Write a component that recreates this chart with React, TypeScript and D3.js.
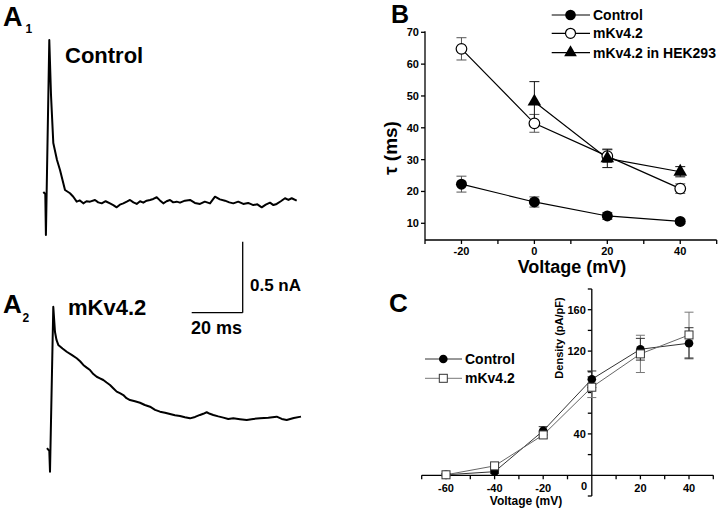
import React from 'react';
import * as d3 from 'd3';

const FONT = "'Liberation Sans', Arial, Helvetica, sans-serif";

// ---- Panel A: current traces (time in ms, current in nA relative to holding) ----
const A1_TIME = [-0.94, -0.16, 0.08, 1.41, 2.08, 2.98, 4.43, 5.61, 7.57, 9.53, 10.82, 12.16, 13.4, 14.75, 16.0, 17.37, 19.33, 20.6, 21.96, 23.5, 25.22, 26.5, 27.84, 29.1, 30.43, 31.8, 33.06, 34.4, 35.69, 37.0, 38.27, 39.6, 40.9, 42.2, 43.53, 44.8, 46.12, 47.4, 48.75, 50.0, 51.37, 52.67, 54.6, 56.59, 58.5, 60.51, 62.4, 64.43, 66.39, 68.3, 70.31, 72.0, 73.57, 75.5, 77.49, 79.4, 81.41, 83.0, 84.71, 86.3, 87.96, 89.3, 90.59, 92.2, 93.84, 95.2, 96.47, 98.43];
const A1_CURRENT = [0.007, -0.007, -0.296, 1.077, 0.69, 0.352, 0.232, 0.162, 0.021, -0.002, -0.026, -0.061, -0.052, -0.073, -0.058, -0.061, -0.049, -0.066, -0.073, -0.058, -0.073, -0.085, -0.101, -0.082, -0.073, -0.061, -0.049, -0.066, -0.077, -0.058, -0.068, -0.054, -0.049, -0.042, -0.03, -0.052, -0.073, -0.058, -0.049, -0.066, -0.061, -0.068, -0.054, -0.049, -0.07, -0.077, -0.061, -0.073, -0.026, -0.045, -0.054, -0.066, -0.073, -0.061, -0.077, -0.07, -0.085, -0.08, -0.101, -0.082, -0.068, -0.085, -0.077, -0.058, -0.037, -0.049, -0.037, -0.054];
const A2_TIME = [-1.18, -0.27, 0, 1.29, 1.96, 2.55, 3.25, 4.9, 6.55, 8.5, 10.47, 11.8, 13.06, 14.4, 15.69, 17.0, 18.31, 19.6, 20.9, 22.2, 23.53, 24.8, 26.16, 27.4, 28.75, 30.0, 31.37, 33.3, 35.29, 37.2, 39.22, 41.2, 43.14, 45.1, 47.06, 49.0, 50.98, 52.9, 54.9, 56.9, 58.82, 60.1, 61.45, 62.7, 64.04, 66.0, 67.96, 69.9, 71.88, 74.5, 77.14, 79.7, 82.35, 85.6, 88.9, 90.9, 92.82, 95.6, 98.43];
const A2_CURRENT = [0.009, -0.012, -0.158, 1.004, 0.826, 0.77, 0.735, 0.71, 0.687, 0.665, 0.641, 0.62, 0.594, 0.575, 0.558, 0.53, 0.511, 0.5, 0.488, 0.47, 0.453, 0.43, 0.406, 0.395, 0.382, 0.36, 0.347, 0.338, 0.328, 0.312, 0.3, 0.278, 0.265, 0.258, 0.249, 0.24, 0.235, 0.226, 0.218, 0.228, 0.242, 0.25, 0.261, 0.25, 0.242, 0.232, 0.223, 0.214, 0.218, 0.212, 0.206, 0.214, 0.218, 0.222, 0.23, 0.214, 0.206, 0.22, 0.23];
const SCALE_TIME = 20; // ms
const SCALE_CURRENT = 0.5; // nA

// ---- Panel B: inactivation time constant ----
const B_VOLT = [-20, 0, 20, 40];
const B_CONTROL = [22.3, 16.7, 12.3, 10.6];
const B_CONTROL_ERR = [2.5, 1.6, 1.1, 0.7];
const B_MKV = [64.8, 41.4, 31.1, 20.9];
const B_MKV_ERR = [3.5, 2.8, 2.0, 1.5];
const B_HEK_VOLT = [0, 20, 40];
const B_HEK = [48.2, 30.4, 26.2];
const B_HEK_ERR = [6.3, 2.9, 1.6];
const B_X_TICKS = [-20, 0, 20, 40];
const B_X_MINOR = [-30, -10, 10, 30, 50];
const B_Y_TICKS = [10, 20, 30, 40, 50, 60, 70];

// ---- Panel C: current density ----
const C_VOLT = [-60, -40, -20, 0, 20, 40];
const C_CONTROL = [0.5, 3.5, 43, 92.8, 121.8, 127.6];
const C_CONTROL_ERR = [1, 1.5, 4, 8, 10.5, 15];
const C_MKV = [0.5, 9.1, 39, 85.1, 117.3, 135.6];
const C_MKV_ERR = [1, 2, 3, 10, 18, 22];
const C_X_TICKS = [-60, -40, -20, 20, 40];
const C_X_ALL = [-70, -60, -50, -40, -30, -20, -10, 10, 20, 30, 40, 50];
const C_Y_TICKS = [40, 120, 160];
const C_Y_ALL = [-20, 20, 40, 60, 80, 100, 120, 140, 160, 180];

type P = [number, number];

export default function App() {
  // Panel A scales
  const xA1 = d3.scaleLinear().domain([0, 100]).range([45.7, 300.7]);
  const yA1 = d3.scaleLinear().domain([0, 1]).range([193, 51]);
  const xA2 = d3.scaleLinear().domain([0, 100]).range([50, 305]);
  const yA2 = d3.scaleLinear().domain([0, 1]).range([449.3, 307.3]);
  const lineA1 = d3.line<P>().x(d => xA1(d[0])).y(d => yA1(d[1]));
  const lineA2 = d3.line<P>().x(d => xA2(d[0])).y(d => yA2(d[1]));
  const a1: P[] = A1_TIME.map((t, i) => [t, A1_CURRENT[i]]);
  const a2: P[] = A2_TIME.map((t, i) => [t, A2_CURRENT[i]]);
  const barW = xA2(SCALE_TIME) - xA2(0);
  const barH = yA2(0) - yA2(SCALE_CURRENT);
  const cornerX = 242.7, cornerY = 312.7;

  // Panel B scales
  const xB = d3.scaleLinear().domain([-30, 50]).range([425, 716.7]);
  const yB = d3.scaleLinear().domain([4.75, 70]).range([240, 32.3]);
  const lineB = d3.line<P>().x(d => xB(d[0])).y(d => yB(d[1]));
  const bCtrl: P[] = B_VOLT.map((v, i) => [v, B_CONTROL[i]]);
  const bMkv: P[] = B_VOLT.map((v, i) => [v, B_MKV[i]]);
  const bHek: P[] = B_HEK_VOLT.map((v, i) => [v, B_HEK[i]]);
  const tri = d3.symbol().type(d3.symbolTriangle).size(80)() as string;
  const triSmall = d3.symbol().type(d3.symbolTriangle).size(70)() as string;

  // Panel C scales
  const xC = d3.scaleLinear().domain([-70, 50]).range([421.7, 713.3]);
  const yC = d3.scaleLinear().domain([-20, 180]).range([496, 289]);
  const lineC = d3.line<P>().x(d => xC(d[0])).y(d => yC(d[1]));
  const cCtrl: P[] = C_VOLT.map((v, i) => [v, C_CONTROL[i]]);
  const cMkv: P[] = C_VOLT.map((v, i) => [v, C_MKV[i]]);

  const errBar = (x: number, yTop: number, yBot: number, key: string, color: string, cap = 5) => (
    <g key={key} stroke={color} strokeWidth={1}>
      <line x1={x} x2={x} y1={yTop} y2={yBot} />
      <line x1={x - cap} x2={x + cap} y1={yTop} y2={yTop} />
      <line x1={x - cap} x2={x + cap} y1={yBot} y2={yBot} />
    </g>
  );

  return (
    <svg width={720} height={510} style={{ position: 'absolute', left: 0, top: 0, background: '#fff' }}
      fontFamily={FONT} fontWeight="bold">
      <rect width={720} height={510} fill="#fff" />
      {/* ===== Panel A ===== */}
      <text x={3} y={26} fontSize={27}>A</text>
      <text x={25.5} y={33} fontSize={12}>1</text>
      <text x={65} y={63} fontSize={22}>Control</text>
      <path d={lineA1(a1) || ''} fill="none" stroke="#000" strokeWidth={2} strokeLinejoin="round" />

      <text x={3} y={313} fontSize={26}>A</text>
      <text x={22.5} y={321.5} fontSize={12}>2</text>
      <text x={68} y={315} fontSize={22}>mKv4.2</text>
      <path d={lineA2(a2) || ''} fill="none" stroke="#000" strokeWidth={2} strokeLinejoin="round" />

      {/* scale bar */}
      <g stroke="#000" strokeWidth={1.3} fill="none">
        <line x1={cornerX - barW} x2={cornerX} y1={cornerY} y2={cornerY} />
        <line x1={cornerX} x2={cornerX} y1={cornerY} y2={cornerY - barH} />
      </g>
      <text x={250} y={291} fontSize={17}>0.5 nA</text>
      <text x={191} y={334} fontSize={18}>20 ms</text>

      {/* ===== Panel B ===== */}
      <text x={391} y={23} fontSize={25}>B</text>
      <g stroke="#000" strokeWidth={1.3}>
        <line x1={xB(-30)} x2={xB(-30)} y1={yB(4.75)} y2={yB(70) - 1} />
        <line x1={xB(-30)} x2={xB(50)} y1={yB(4.75)} y2={yB(4.75)} />
        {B_Y_TICKS.map(t => <line key={'by' + t} x1={xB(-30) - 4} x2={xB(-30)} y1={yB(t)} y2={yB(t)} />)}
        {B_X_TICKS.concat(B_X_MINOR).map(t => <line key={'bx' + t} x1={xB(t)} x2={xB(t)} y1={yB(4.75)} y2={yB(4.75) + 4} />)}
      </g>
      {B_Y_TICKS.map(t => (
        <text key={'byl' + t} x={xB(-30) - 6} y={yB(t) + 4} fontSize={11} textAnchor="end">{t}</text>
      ))}
      {B_X_TICKS.map(t => (
        <text key={'bxl' + t} x={xB(t)} y={255} fontSize={11} textAnchor="middle">{t}</text>
      ))}
      <text transform="translate(397,148) rotate(-90)" fontSize={19} textAnchor="middle">τ (ms)</text>
      <text x={572} y={273} fontSize={18} textAnchor="middle">Voltage (mV)</text>

      <path d={lineB(bCtrl) || ''} fill="none" stroke="#000" strokeWidth={1.2} />
      <path d={lineB(bMkv) || ''} fill="none" stroke="#000" strokeWidth={1.2} />
      <path d={lineB(bHek) || ''} fill="none" stroke="#000" strokeWidth={1.2} />
      {B_VOLT.map((v, i) => errBar(xB(v), yB(B_CONTROL[i] + B_CONTROL_ERR[i]), yB(B_CONTROL[i] - B_CONTROL_ERR[i]), 'bce' + i, '#555'))}
      {B_VOLT.map((v, i) => errBar(xB(v), yB(B_MKV[i] + B_MKV_ERR[i]), yB(B_MKV[i] - B_MKV_ERR[i]), 'bme' + i, '#555'))}
      {B_HEK_VOLT.map((v, i) => errBar(xB(v), yB(B_HEK[i] + B_HEK_ERR[i]), yB(B_HEK[i] - B_HEK_ERR[i]), 'bhe' + i, '#111'))}
      {bCtrl.map((d, i) => <circle key={'bc' + i} cx={xB(d[0])} cy={yB(d[1])} r={5.5} fill="#000" />)}
      {bMkv.map((d, i) => <circle key={'bm' + i} cx={xB(d[0])} cy={yB(d[1])} r={5.3} fill="#fff" stroke="#000" strokeWidth={1.2} />)}
      {bHek.map((d, i) => <path key={'bh' + i} d={tri} transform={`translate(${xB(d[0])},${yB(d[1])})`} fill="#000" />)}

      {/* legend B */}
      <g stroke="#000" strokeWidth={1.2}>
        <line x1={551.7} x2={590} y1={15} y2={15} />
        <line x1={551.7} x2={590} y1={33.3} y2={33.3} />
        <line x1={551.7} x2={590} y1={52.7} y2={52.7} />
      </g>
      <circle cx={570.5} cy={15} r={5.3} fill="#000" />
      <circle cx={570.5} cy={33.3} r={5} fill="#fff" stroke="#000" strokeWidth={1.2} />
      <path d={triSmall} transform="translate(570.5,52.7)" fill="#000" />
      <text x={593} y={20} fontSize={14}>Control</text>
      <text x={593} y={38.3} fontSize={14}>mKv4.2</text>
      <text x={593} y={57.7} fontSize={14}>mKv4.2 in HEK293</text>

      {/* ===== Panel C ===== */}
      <text x={389} y={312} fontSize={26}>C</text>
      <g stroke="#000" strokeWidth={1.3}>
        <line x1={xC(0)} x2={xC(0)} y1={yC(-20)} y2={yC(180)} />
        <line x1={xC(-70)} x2={xC(50)} y1={yC(0)} y2={yC(0)} />
        {C_Y_ALL.map(t => <line key={'cy' + t} x1={xC(0) - 4} x2={xC(0)} y1={yC(t)} y2={yC(t)} />)}
        {C_X_ALL.map(t => <line key={'cx' + t} x1={xC(t)} x2={xC(t)} y1={yC(0)} y2={yC(0) + 4} />)}
      </g>
      {C_Y_TICKS.map(t => (
        <text key={'cyl' + t} x={xC(0) - 6} y={yC(t) + 4} fontSize={11} textAnchor="end">{t}</text>
      ))}
      {C_X_TICKS.map(t => (
        <text key={'cxl' + t} x={xC(t)} y={492} fontSize={11} textAnchor="middle">{t}</text>
      ))}
      <text x={587} y={490} fontSize={11} textAnchor="end">0</text>
      <text transform="translate(563,338) rotate(-90)" fontSize={11} textAnchor="middle">Density (pA/pF)</text>
      <text x={526} y={505} fontSize={12} textAnchor="middle">Voltage (mV)</text>

      <path d={lineC(cCtrl) || ''} fill="none" stroke="#333" strokeWidth={1} />
      <path d={lineC(cMkv) || ''} fill="none" stroke="#666" strokeWidth={1} />
      {C_VOLT.map((v, i) => errBar(xC(v), yC(C_MKV[i] + C_MKV_ERR[i]), yC(C_MKV[i] - C_MKV_ERR[i]), 'cme' + i, '#777', 4.5))}
      {C_VOLT.map((v, i) => errBar(xC(v), yC(C_CONTROL[i] + C_CONTROL_ERR[i]), yC(C_CONTROL[i] - C_CONTROL_ERR[i]), 'cce' + i, '#333', 4.5))}
      {cCtrl.map((d, i) => <circle key={'cc' + i} cx={xC(d[0])} cy={yC(d[1])} r={4.3} fill="#000" />)}
      {cMkv.map((d, i) => <rect key={'cm' + i} x={xC(d[0]) - 4} y={yC(d[1]) - 4} width={8} height={8} fill="#fff" stroke="#333" strokeWidth={1} />)}

      {/* legend C */}
      <line x1={425} x2={462} y1={359} y2={359} stroke="#333" strokeWidth={1} />
      <line x1={425} x2={462} y1={378.3} y2={378.3} stroke="#777" strokeWidth={1} />
      <circle cx={443.3} cy={359} r={4.3} fill="#000" />
      <rect x={439.3} y={374.3} width={8} height={8} fill="#fff" stroke="#333" strokeWidth={1} />
      <text x={465} y={364} fontSize={14}>Control</text>
      <text x={465} y={383.3} fontSize={14}>mKv4.2</text>
    </svg>
  );
}
